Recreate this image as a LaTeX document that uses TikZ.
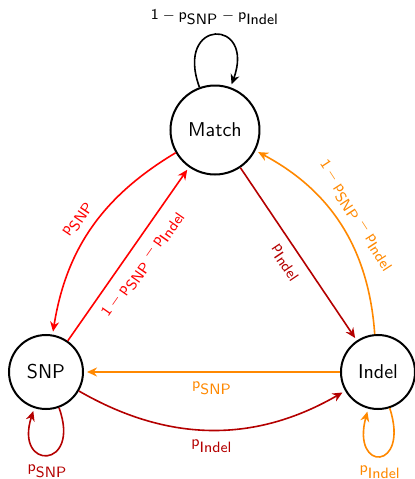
\documentclass[tikz,border=0pt]{standalone}
\usetikzlibrary{arrows.meta}
\definecolor{edgered}{RGB}{255,0,0}
\definecolor{edgedark}{RGB}{180,0,0}
\definecolor{edgeorange}{RGB}{255,136,0}
% transition probability in sans-serif
\newcommand{\prob}[1]{\textsf{p}_{\textsf{#1}}}
\newcommand{\stayprob}{\textsf{1}-\prob{SNP}-\prob{Indel}}

\begin{document}
\begin{tikzpicture}[x=0.5pt,y=0.5pt,
  state/.style={circle,draw,line width=1pt,inner sep=0pt,font=\sffamily\normalsize},
  trans/.style={line width=0.8pt,-{Stealth[length=5pt,width=4.5pt]},shorten >=1.5pt},
  lbl/.style={font=\sffamily\fontsize{7.5}{9}\selectfont,inner sep=4.5pt}]
\useasboundingbox (0,0) rectangle (415,479);

% states
\node[state,minimum size=44.5pt] (M) at (215,349) {Match};
\node[state,minimum size=37pt]   (S) at (46,107)  {SNP};
\node[state,minimum size=37pt]   (I) at (378,107) {Indel};

% transitions between states
\draw[trans,edgered] (M) to[bend right=25] node[lbl,sloped,above] {$\prob{SNP}$} (S);
\draw[trans,edgered] (S) -- node[lbl,sloped,below] {$\stayprob$} (M);
\draw[trans,edgedark] (M) -- node[lbl,sloped,below] {$\prob{Indel}$} (I);
\draw[trans,edgeorange] (I) to[bend right=29] node[lbl,sloped,above] {$\stayprob$} (M);
\draw[trans,edgeorange] (I) -- node[lbl,below] {$\prob{SNP}$} (S);
\draw[trans,edgedark] (S) to[bend right=30] node[lbl,below] {$\prob{Indel}$} (I);

% self loops
\draw[trans] (M) to[out=110,in=70,distance=37pt] node[lbl,above] {$\stayprob$} (M);
\draw[trans,edgedark] (S) to[out=-70,in=-108,distance=33pt] node[lbl,below] {$\prob{SNP}$} (S);
\draw[trans,edgeorange] (I) to[out=-72,in=-105,distance=33pt] node[lbl,below] {$\prob{Indel}$} (I);
\end{tikzpicture}
\end{document}
